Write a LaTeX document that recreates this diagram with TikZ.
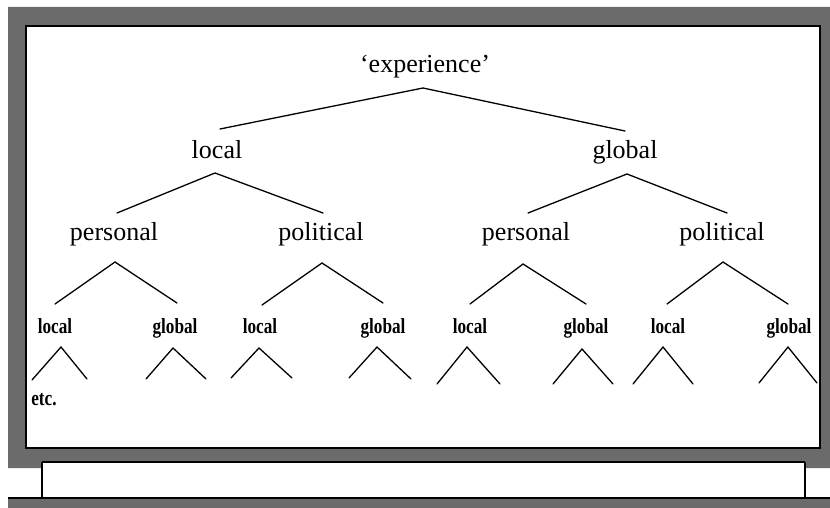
\documentclass[tikz,border=0pt]{standalone}
\usepackage{fontspec}
\usepackage{graphicx}
\setmainfont{Liberation Serif}
\definecolor{framegray}{gray}{0.42}
\tikzset{
  big/.style={inner sep=0pt, anchor=base, font=\fontsize{26}{30}\selectfont},
  small/.style={inner sep=0pt, anchor=base, font=\fontsize{21.5}{24}\selectfont\bfseries},
  branch/.style={line width=1.3pt, line cap=round, line join=miter},
  edge/.style={line width=2.2pt, black}
}
\newcommand{\narrow}[1]{\scalebox{0.8}[1]{#1}}
\begin{document}
\begin{tikzpicture}[x=1pt,y=-1pt]
\useasboundingbox (0,0) rectangle (830,508);
\fill[white] (0,0) rectangle (830,508);
% frame
\fill[framegray, even odd rule] (8,7) -- (830,7) -- (830,468) -- (805,468) -- (805,462) -- (42,462) -- (42,468) -- (8,468) -- cycle (26,26) rectangle (820,448);
\draw[edge] (26,26) rectangle (820,448);
\draw[edge] (42,462) -- (805,462);
\fill[framegray] (8,498) rectangle (830,508);
\draw[edge] (8,498) -- (830,498);
\draw[line width=1.5pt] (42,462) -- (42,498);
\draw[line width=1.5pt] (805,462) -- (805,498);
% level 1
\node[big] (exp) at (425,73) {‘experience’};
% level 2
\node[big] (loc) at (217,159) {local};
\node[big] (glo) at (625,159) {global};
% level 3
\node[big] (per1) at (114,240) {personal};
\node[big] (pol1) at (321,240) {political};
\node[big] (per2) at (526,240) {personal};
\node[big] (pol2) at (722,240) {political};
% level 4
\node[small] (la) at (55,333) {\narrow{local}};
\node[small] (ga) at (175,333) {\narrow{global}};
\node[small] (lb) at (260,333) {\narrow{local}};
\node[small] (gb) at (383,333) {\narrow{global}};
\node[small] (lc) at (470,333) {\narrow{local}};
\node[small] (gc) at (586,333) {\narrow{global}};
\node[small] (ld) at (668,333) {\narrow{local}};
\node[small] (gd) at (789,333) {\narrow{global}};
\node[small] (etc) at (44,405) {\narrow{etc.}};
% connector points
\coordinate (expP) at (423,88);
\coordinate (locT) at (220,129);
\coordinate (gloT) at (625,131);
\coordinate (locP) at (215,173);
\coordinate (gloP) at (627,174);
\coordinate (per1T) at (117,213);
\coordinate (pol1T) at (323,213);
\coordinate (per2T) at (528,213);
\coordinate (pol2T) at (727,213);
\coordinate (per1P) at (115,262);
\coordinate (pol1P) at (322,263);
\coordinate (per2P) at (523,264);
\coordinate (pol2P) at (723,262);
\coordinate (laT) at (55,304);
\coordinate (gaT) at (177,303);
\coordinate (lbT) at (262,305);
\coordinate (gbT) at (383,303);
\coordinate (lcT) at (470,304);
\coordinate (gcT) at (586,304);
\coordinate (ldT) at (667,304);
\coordinate (gdT) at (788,304);
\draw[branch] (locT) -- (expP) -- (gloT);
\draw[branch] (per1T) -- (locP) -- (pol1T);
\draw[branch] (per2T) -- (gloP) -- (pol2T);
\draw[branch] (laT) -- (per1P) -- (gaT);
\draw[branch] (lbT) -- (pol1P) -- (gbT);
\draw[branch] (lcT) -- (per2P) -- (gcT);
\draw[branch] (ldT) -- (pol2P) -- (gdT);
% carets below level 4
\draw[branch] (32,380) -- (61,347) -- (87,379);
\draw[branch] (146,379) -- (173,348) -- (206,379);
\draw[branch] (231,378) -- (259,348) -- (292,378);
\draw[branch] (349,378) -- (377,347) -- (411,379);
\draw[branch] (437,384) -- (467,347) -- (500,384);
\draw[branch] (553,384) -- (582,349) -- (613,384);
\draw[branch] (633,384) -- (663,347) -- (693,384);
\draw[branch] (759,383) -- (788,347) -- (817,383);
\end{tikzpicture}
\end{document}
